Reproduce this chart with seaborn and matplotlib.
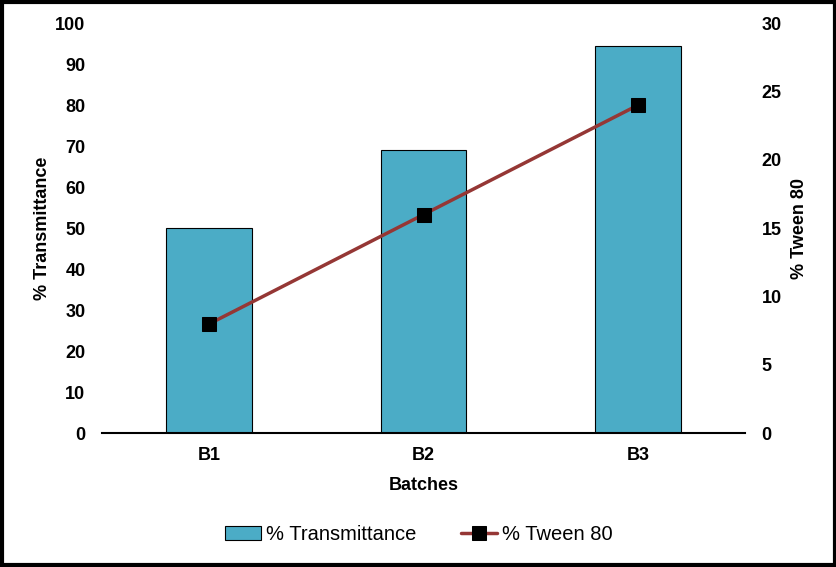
import pandas as pd
import matplotlib.pyplot as plt
import seaborn as sns

batches = ["B1", "B2", "B3"]
transmittance = [50.1, 69.2, 94.5]
tween80 = [8, 16, 24]

df = pd.DataFrame({"Batches": batches, "Transmittance": transmittance, "Tween": tween80})

sns.set_style("white")
plt.rcParams["font.family"] = ["Liberation Sans", "DejaVu Sans"]
plt.rcParams["text.color"] = "black"
plt.rcParams["axes.labelcolor"] = "black"
plt.rcParams["xtick.color"] = "black"
plt.rcParams["ytick.color"] = "black"

fig = plt.figure(figsize=(8.37, 5.67), dpi=100)
ax = fig.add_axes([0.122, 0.236, 0.768, 0.723])

sns.barplot(x="Batches", y="Transmittance", data=df, color="#4BACC6", width=0.4,
            edgecolor="black", linewidth=0.8, saturation=1, ax=ax,
            label="% Transmittance")
ax.set_xlim(-0.5, 2.5)
ax.set_ylim(0, 100)
ax.set_yticks(range(0, 101, 10))
ax.set_ylabel("% Transmittance", fontsize=13, fontweight="bold", labelpad=3)
ax.set_xlabel("Batches", fontsize=13, fontweight="bold", labelpad=9)

ax2 = ax.twinx()
sns.lineplot(x=[0, 1, 2], y=df["Tween"], color="#953735", linewidth=2.5,
             marker="s", markersize=10, markerfacecolor="black", markeredgecolor="black",
             ax=ax2, label="% Tween 80")
ax2.set_ylim(0, 30)
ax2.set_yticks(range(0, 31, 5))
ax2.set_ylabel("% Tween 80", fontsize=13, fontweight="bold", labelpad=7)

for a in (ax, ax2):
    for s in ["top", "left", "right", "bottom"]:
        a.spines[s].set_visible(False)
    a.tick_params(axis="both", length=0, labelsize=13, pad=12)
    for t in a.get_xticklabels() + a.get_yticklabels():
        t.set_fontweight("bold")
ax.tick_params(axis="x", pad=10)
ax.spines["bottom"].set_visible(True)
ax.spines["bottom"].set_color("black")
ax.spines["bottom"].set_linewidth(1.5)

h1, l1 = ax.get_legend_handles_labels()
h2, l2 = ax2.get_legend_handles_labels()
if ax.get_legend():
    ax.get_legend().remove()
if ax2.get_legend():
    ax2.get_legend().remove()
fig.legend(h1 + h2, l1 + l2, loc="center", bbox_to_anchor=(0.5, 0.057), ncol=2,
           frameon=False, fontsize=14.5, columnspacing=2.2, handlelength=1.8,
           handletextpad=0.25)

border = plt.Rectangle((0.002, 0.003), 0.996, 0.994, transform=fig.transFigure,
                       fill=False, edgecolor="black", linewidth=3)
fig.patches.append(border)

fig.savefig("out.png", dpi=100)
